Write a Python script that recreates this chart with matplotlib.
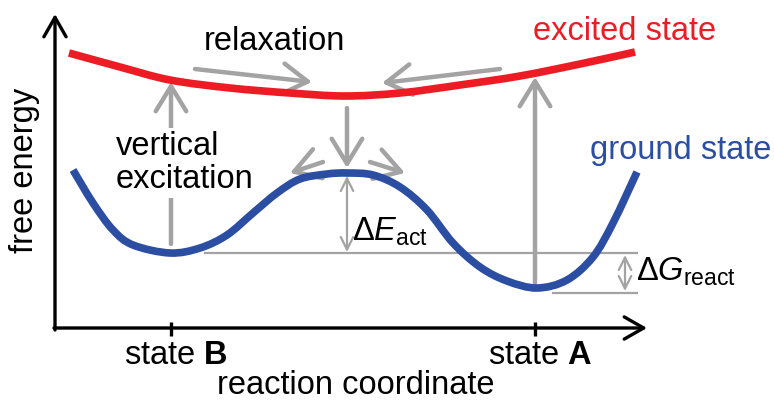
import numpy as np
import matplotlib
matplotlib.use("Agg")
import matplotlib.pyplot as plt
from matplotlib.path import Path
from matplotlib.patches import PathPatch

plt.rcParams['font.family'] = ['Liberation Sans', 'DejaVu Sans']
plt.rcParams['mathtext.fontset'] = 'custom'
plt.rcParams['mathtext.rm'] = 'Liberation Sans'
plt.rcParams['mathtext.it'] = 'Liberation Sans:italic'
plt.rcParams['mathtext.bf'] = 'Liberation Sans:bold'

# curves (x = reaction coordinate, y = energy, pixel-like units, y downwards)
excited_x = [69, 120, 170, 230, 290, 345, 400, 460, 520, 580, 635]
excited_y = [53, 67, 80, 88, 93, 96, 93, 85, 76, 64, 52]

ground_x = [73, 93, 113, 133, 170, 200, 227, 253, 277, 300, 327, 347,
            373, 400, 427, 453, 480, 507, 537, 567, 593, 613, 637]
ground_y = [170, 203, 230, 245, 253, 248, 235, 213, 193, 179, 174, 173,
            175, 187, 210, 243, 267, 281, 288, 280, 257, 223, 172]

state_x = [171, 535]
state_names = ["B", "A"]

# gray process arrows: (x_start, y_start, x_end, y_end)
excitation_arrows = [(171, 244, 171, 82), (535, 283, 535, 77)]
relax_arrows = [(195, 69, 312, 82), (500, 69, 382, 83), (347, 108, 347, 168),
                (323, 162, 290, 173), (370, 162, 405, 173)]

e_barrier = 173     # top of the barrier
e_min_b = 253       # ground state minimum at B
e_min_a = 293       # ground state minimum at A

red = '#ED1C24'
blue = '#2B4EA2'
gray = '#A3A3A3'


def smooth_path(xs, ys):
    # catmull-rom through the read points, drawn as bezier segments
    p = np.column_stack([xs, ys]).astype(float)
    verts = [p[0]]
    codes = [Path.MOVETO]
    for i in range(len(p) - 1):
        p0 = p[i - 1] if i > 0 else p[i]
        p3 = p[i + 2] if i + 2 < len(p) else p[i + 1]
        c1 = p[i] + (p[i + 1] - p0) / 6
        c2 = p[i + 1] - (p3 - p[i]) / 6
        verts += [c1, c2, p[i + 1]]
        codes += [Path.CURVE4] * 3
    return Path(verts, codes)


fig = plt.figure(figsize=(7.74, 4.01), dpi=100)
ax = fig.add_axes([0, 0, 1, 1])
ax.set_xlim(0, 774)
ax.set_ylim(401, 0)
ax.axis('off')

# axes with arrows
ax.annotate('', xy=(55, 14), xytext=(55, 330),
            arrowprops=dict(arrowstyle='->, head_length=0.7, head_width=0.4', lw=2.4, color='black',
                            mutation_scale=20, shrinkA=0, shrinkB=0))
ax.annotate('', xy=(647, 328), xytext=(54, 328),
            arrowprops=dict(arrowstyle='->, head_length=0.7, head_width=0.4', lw=2.4, color='black',
                            mutation_scale=20, shrinkA=0, shrinkB=0))
for sx in state_x:
    ax.plot([sx, sx], [322, 336], color='black', lw=2.4, solid_capstyle='butt')

# reference lines
ax.plot([205, 637], [e_min_b, e_min_b], color=gray, lw=1.6)
ax.plot([553, 637], [e_min_a, e_min_a], color=gray, lw=1.6)

# gray arrows
big = dict(arrowstyle='->, head_length=0.9, head_width=0.55', lw=3.2, color=gray,
           mutation_scale=20, shrinkA=0, shrinkB=0)
for x0, y0, x1, y1 in excitation_arrows + relax_arrows:
    ax.annotate('', xy=(x1, y1), xytext=(x0, y0), arrowprops=big)

small = dict(arrowstyle='<->, head_length=0.6, head_width=0.3', lw=1.6, color=gray,
             mutation_scale=15, shrinkA=0, shrinkB=0)
ax.annotate('', xy=(347, e_barrier + 3), xytext=(347, e_min_b - 1), arrowprops=small)
ax.annotate('', xy=(625, e_min_b + 2), xytext=(625, e_min_a - 2), arrowprops=small)

# curves
ax.add_patch(PathPatch(smooth_path(excited_x, excited_y), facecolor='none', edgecolor=red,
                       lw=5.5, capstyle='butt', zorder=5))
ax.add_patch(PathPatch(smooth_path(ground_x, ground_y), facecolor='none', edgecolor=blue,
                       lw=5.5, capstyle='butt', zorder=5))

# texts
fs = 23.5
ax.text(274, 42, 'relaxation', fontsize=fs, ha='center', va='center')
ax.text(625, 32, 'excited state', fontsize=fs, ha='center', va='center', color=red)
ax.text(681, 150, 'ground state', fontsize=fs, ha='center', va='center', color=blue)
ax.text(116, 163, 'vertical\nexcitation', fontsize=fs, ha='left', va='center', linespacing=1.05,
        zorder=6, bbox=dict(facecolor='white', edgecolor='none', pad=2))
ax.text(25, 170, 'free energy', fontsize=fs, rotation=90, ha='center', va='center')
ax.text(356, 385, 'reaction coordinate', fontsize=fs, ha='center', va='center')
for sx, name in zip(state_x, state_names):
    ax.text(sx + 5, 355, 'state $\\mathbf{' + name + '}$', fontsize=fs, ha='center', va='center')
ax.text(352, 232, '$\\Delta\\mathit{E}_{\\mathrm{act}}$', fontsize=fs, ha='left', va='center')
ax.text(636, 272, '$\\Delta\\mathit{G}_{\\mathrm{react}}$', fontsize=fs, ha='left', va='center')

fig.savefig('out.png', dpi=100)
